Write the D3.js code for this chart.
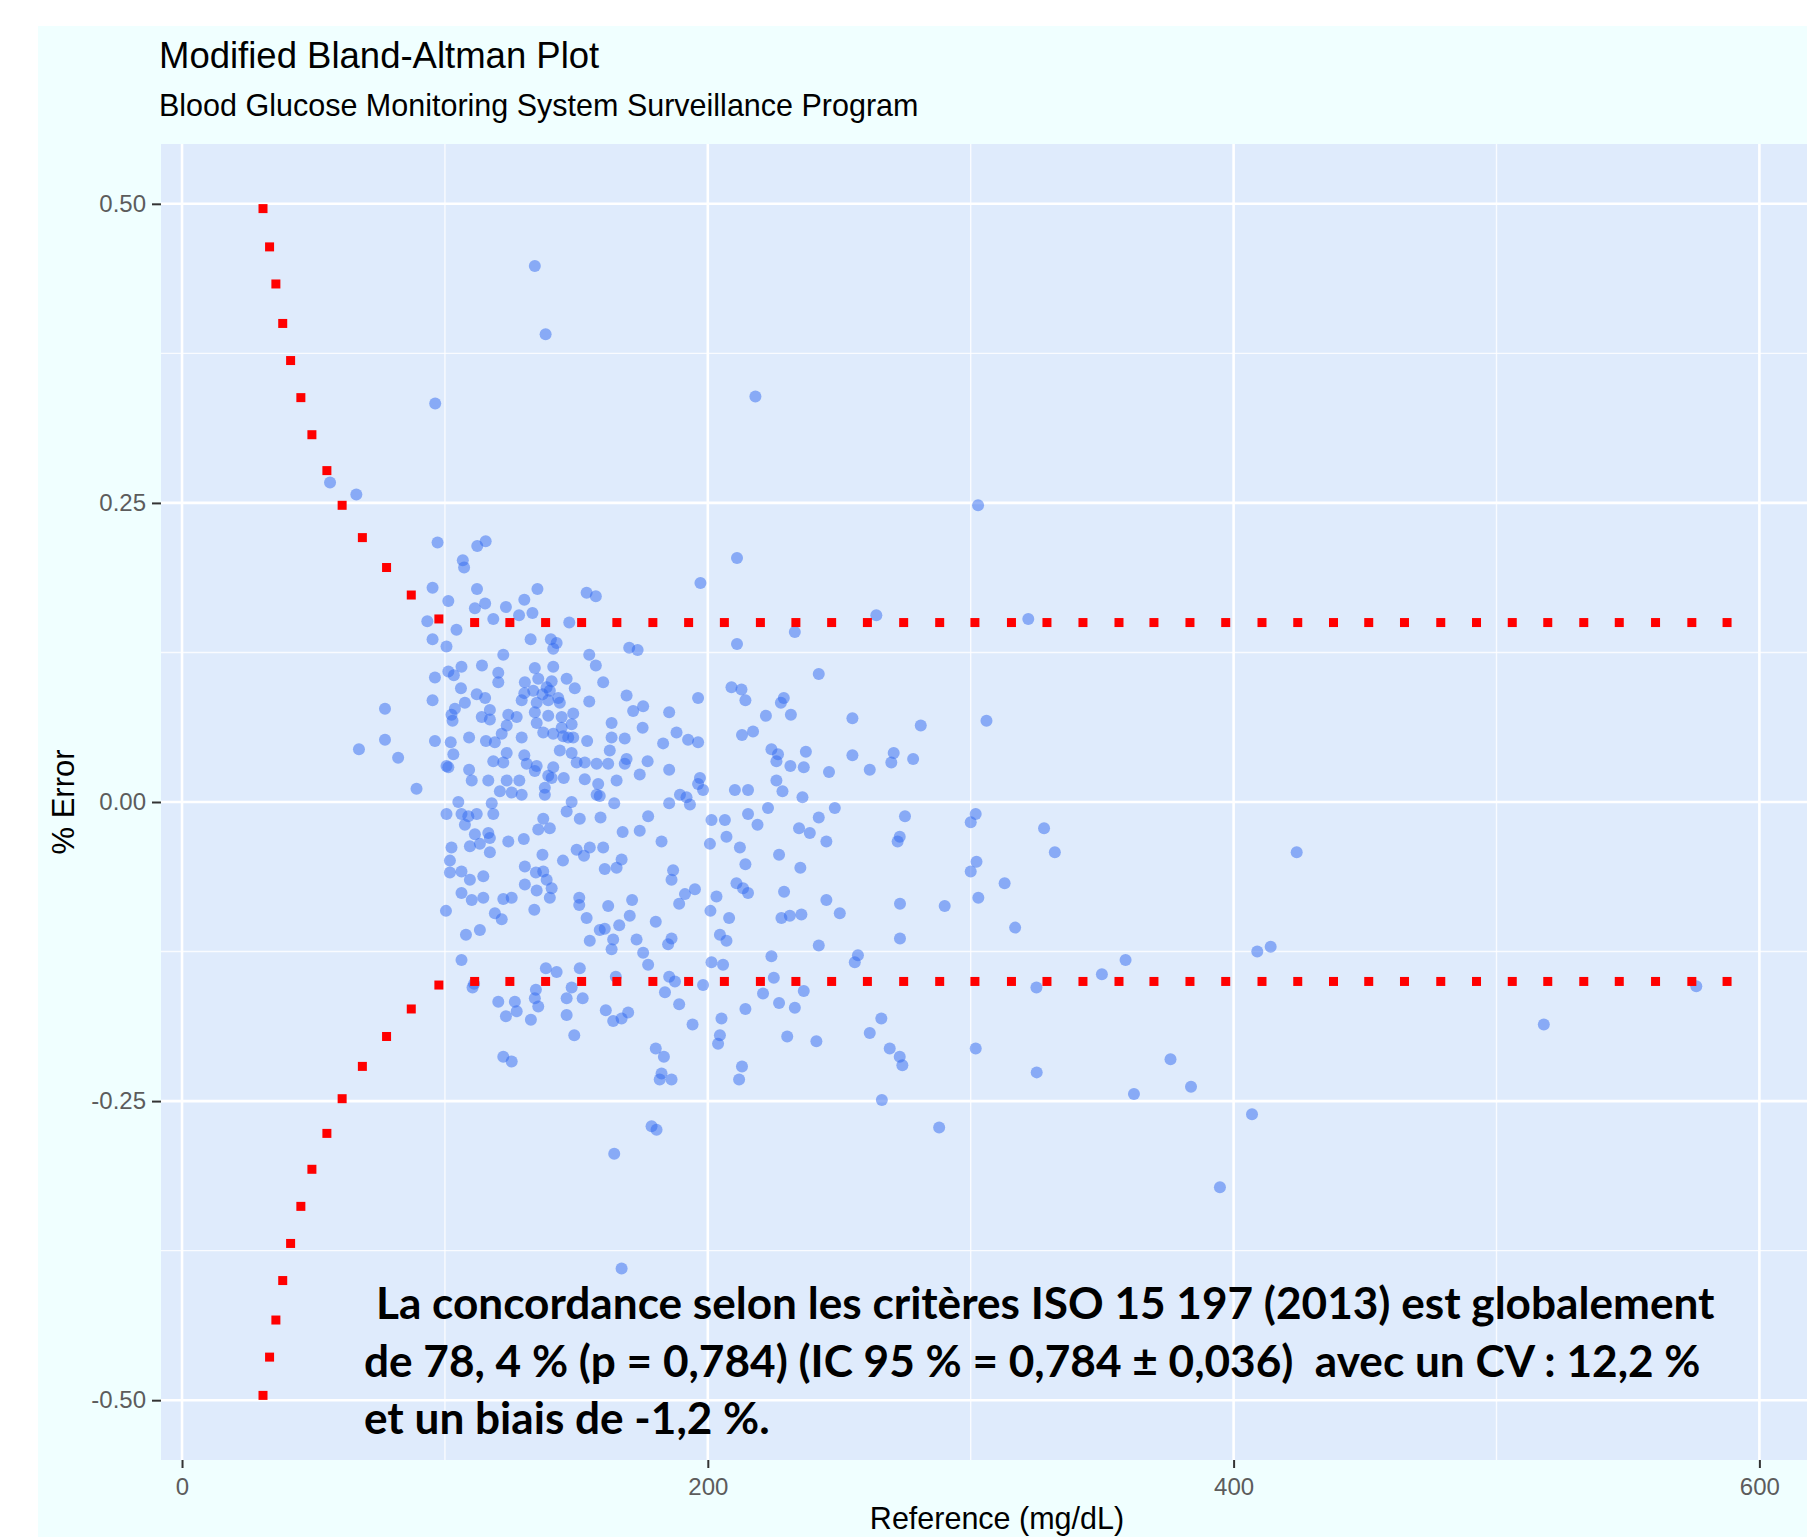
<!DOCTYPE html>
<html>
<head>
<meta charset="utf-8">
<script src="https://cdn.jsdelivr.net/npm/d3@7"></script>
<style>
  body { margin: 0; background: #ffffff; }
  svg { display: block; }
</style>
</head>
<body>
<div id="chart"></div>
<script>
// axis ticks
var xTicks = [0, 200, 400, 600];
var xMinor = [100, 300, 500];
var yTicks = [0.5, 0.25, 0, -0.25, -0.5];
var yTickLabels = ["0.50", "0.25", "0.00", "-0.25", "-0.50"];
var yMinor = [0.375, 0.125, -0.125, -0.375];

// ISO 15197 limits (red markers)
var curveX = [30.8, 33.3, 35.7, 38.3, 41.3, 45.2, 49.4, 55.1, 60.9, 68.6, 77.8, 87.2, 97.7];
var upperCurveY = [0.496, 0.464, 0.433, 0.400, 0.369, 0.338, 0.307, 0.277, 0.248, 0.221, 0.196, 0.173, 0.153];
var lowerCurveY = [-0.496, -0.464, -0.433, -0.400, -0.369, -0.338, -0.307, -0.277, -0.248, -0.221, -0.196, -0.173, -0.153];
var lineX = [111.3, 124.7, 138.3, 152.0, 165.4, 179.1, 192.7, 206.3, 220.0, 233.5, 247.1, 260.7,
             274.5, 288.2, 301.6, 315.5, 329.0, 342.7, 356.4, 369.7, 383.4, 397.0, 410.8, 424.4,
             438.0, 451.4, 465.0, 478.8, 492.4, 506.0, 519.5, 533.2, 546.7, 560.5, 574.3, 587.7];
var upperLineY = 0.15;
var lowerLineY = -0.15;

// measurements: [reference mg/dL, % error]
var points = [
  [134.2,0.448],[138.3,0.391],[96.3,0.333],[218.1,0.339],[56.3,0.267],[66.3,0.257],[97.2,0.217],
  [112.3,0.214],[115.5,0.218],[211.1,0.204],[106.8,0.202],[302.8,0.248],[67.3,0.044],
  [264.1,0.156],[321.9,0.153],[281,0.064],[306,0.068],[270.7,0.041],[269.8,0.033],[278.1,0.036],
  [261.6,0.027],[275,-0.012],[301.9,-0.010],[300,-0.017],[327.9,-0.022],[332,-0.042],[273,-0.029],
  [272.2,-0.033],[424,-0.042],[302.2,-0.050],[300,-0.058],[312.9,-0.068],[302.9,-0.080],[273.1,-0.085],
  [290.1,-0.087],[316.9,-0.105],[273.1,-0.114],[358.9,-0.132],[349.9,-0.144],[325,-0.155],[409,-0.125],
  [414.1,-0.121],[266,-0.181],[261.6,-0.193],[269.2,-0.206],[273,-0.213],[301.9,-0.206],[376,-0.215],
  [274,-0.220],[266.2,-0.249],[288,-0.272],[325.1,-0.226],[362.1,-0.244],[383.8,-0.238],[407,-0.261],
  [394.8,-0.322],[518,-0.186],[576,-0.154],
  [122.2,-0.213],[125.4,-0.217],[183.3,-0.213],[182.4,-0.227],[186.2,-0.232],[181.7,-0.232],[213,-0.221],
  [211.9,-0.232],[178.6,-0.271],[180.5,-0.274],[164.4,-0.294],[167.2,-0.390],
  [107.3,0.196],[197.2,0.183],[95.3,0.179],[112.2,0.178],[135.2,0.178],[153.9,0.175],[157.4,0.172],
  [101.3,0.168],[130.2,0.169],[115.3,0.166],[111.4,0.162],[123.2,0.163],[133.3,0.158],[128.2,0.156],
  [118.4,0.153],[93.3,0.151],[147.3,0.150],[104.4,0.144],[233.1,0.142],[95.3,0.136],[132.6,0.136],
  [140.3,0.136],[142.5,0.133],[141.2,0.128],[100.6,0.130],[211.1,0.132],[170.1,0.129],[173.3,0.127],
  [122.2,0.123],[154.9,0.123],[157.4,0.114],[141.2,0.113],[134.2,0.112],[114.1,0.114],[106.3,0.113],
  [101.3,0.109],[103.4,0.106],[120.3,0.108],[120.3,0.100],[96.2,0.104],[242.2,0.107],[146.3,0.103],
  [160.2,0.100],[130.4,0.100],[135.5,0.103],[140.6,0.101],[138.7,0.096],[149.4,0.095],[106.1,0.095],
  [130.2,0.091],[133.6,0.093],[137.1,0.090],[139.9,0.093],[143.1,0.087],[139.3,0.085],[134.9,0.083],
  [143.7,0.083],[112.1,0.090],[115.3,0.087],[95.3,0.085],[107.6,0.083],[209.0,0.096],[212.8,0.094],
  [214.3,0.085],[169.1,0.089],[154.9,0.084],[196.3,0.087],[228.9,0.087],[227.8,0.083],[129.2,0.085],
  [103.8,0.078],[102.9,0.068],[102.5,0.073],[114.0,0.071],[117.1,0.077],[117.1,0.069],[124.1,0.073],
  [127.3,0.071],[123.5,0.064],[121.6,0.057],[134.2,0.075],[134.9,0.066],[139.3,0.072],[144.4,0.071],
  [148.8,0.074],[148.2,0.065],[144.4,0.062],[185.3,0.075],[222.1,0.072],[231.6,0.073],[255.0,0.070],
  [171.6,0.076],[175.4,0.080],[163.4,0.066],[175.2,0.062],[137.4,0.058],[141.2,0.057],[145.0,0.055],
  [146.9,0.054],[148.8,0.054],[213.0,0.056],[217.2,0.059],[188.1,0.058],[192.5,0.052],[196.3,0.050],
  [183.0,0.049],[163.4,0.054],[168.4,0.053],[154.1,0.051],[96.2,0.051],[102.2,0.050],[109.2,0.054],
  [115.6,0.051],[119.0,0.050],[129.2,0.054],[77.2,0.078],[77.2,0.052],[82.2,0.037],
  [103.2,0.040],[143.7,0.043],[148.2,0.041],[150.1,0.033],[123.5,0.041],[118.4,0.034],[122.2,0.033],
  [130.2,0.039],[131.1,0.032],[134.9,0.030],[134.2,0.026],[100.6,0.030],[101.3,0.029],[141.2,0.029],
  [139.3,0.022],[140.6,0.020],[224.2,0.044],[226.7,0.040],[226.1,0.034],[237.3,0.042],[236.5,0.029],
  [231.4,0.030],[162.7,0.043],[162.1,0.032],[157.7,0.032],[153.2,0.033],[168.4,0.032],[169.1,0.036],
  [177.1,0.034],[185.3,0.027],[174.1,0.023],[246.1,0.025],[255.0,0.039],[109.2,0.027],[110.2,0.018],
  [116.5,0.018],[123.5,0.018],[128.3,0.018],[89.2,0.011],[145.2,0.020],[153.2,0.019],[158.3,0.015],
  [157.7,0.006],[158.9,0.005],[165.3,0.018],[138.0,0.012],[138.0,0.006],[120.9,0.009],[125.4,0.008],
  [129.2,0.006],[117.8,-0.001],[118.4,-0.010],[105.1,0.000],[197.0,0.020],[196.3,0.015],[198.2,0.010],
  [210.3,0.010],[215.3,0.010],[226.1,0.018],[228.4,0.009],[236.0,0.004],[148.2,0.000],[146.3,-0.008],
  [164.4,-0.001],[185.3,-0.001],[189.4,0.006],[191.9,0.004],[193.2,-0.002],[222.9,-0.005],[248.3,-0.005],
  [100.6,-0.010],[106.3,-0.010],[108.9,-0.012],[112.1,-0.010],[151.3,-0.014],[159.2,-0.013],[177.3,-0.012],
  [215.3,-0.010],[242.2,-0.013],[137.4,-0.014],[139.9,-0.022],[135.5,-0.023],[107.6,-0.019],[111.4,-0.027],
  [116.5,-0.026],[117.1,-0.030],[174.1,-0.024],[167.6,-0.025],[201.4,-0.015],[206.5,-0.015],[218.9,-0.019],
  [234.7,-0.022],[238.8,-0.026],[207.1,-0.029],[200.8,-0.035],[182.4,-0.033],[245.1,-0.033],[124.1,-0.033],
  [130.0,-0.031],[102.5,-0.038],[101.9,-0.049],[109.5,-0.037],[113.3,-0.035],[117.1,-0.042],[137.1,-0.044],
  [150.1,-0.040],[155.1,-0.038],[160.2,-0.038],[152.9,-0.045],[212.2,-0.038],[227.1,-0.044],[144.9,-0.049],
  [167.2,-0.048],[165.3,-0.055],[160.8,-0.056],[186.8,-0.057],[186.2,-0.065],[214.3,-0.052],[235.2,-0.055],
  [101.9,-0.059],[106.3,-0.058],[109.5,-0.065],[114.6,-0.062],[130.4,-0.054],[134.6,-0.059],[137.4,-0.058],
  [138.7,-0.065],[210.9,-0.068],[213.4,-0.072],[215.3,-0.076],[229.0,-0.075],[195.1,-0.073],[191.3,-0.077],
  [189.1,-0.085],[130.4,-0.069],[134.9,-0.074],[140.6,-0.072],[139.9,-0.080],[106.3,-0.076],[110.2,-0.082],
  [114.6,-0.080],[203.3,-0.079],[245.1,-0.082],[250.2,-0.093],[100.4,-0.091],[122.2,-0.081],[125.4,-0.080],
  [119.0,-0.093],[121.6,-0.098],[134.0,-0.090],[151.1,-0.080],[151.1,-0.086],[153.9,-0.097],[162.1,-0.087],
  [171.2,-0.082],[170.3,-0.095],[201.0,-0.091],[208.1,-0.097],[228.0,-0.097],[231.2,-0.095],[235.6,-0.094],
  [180.2,-0.100],[166.3,-0.103],[158.9,-0.107],[160.8,-0.106],[108.0,-0.111],[113.3,-0.107],[186.2,-0.114],
  [184.9,-0.119],[172.9,-0.115],[175.4,-0.126],[177.3,-0.136],[155.1,-0.116],[164.0,-0.115],[163.4,-0.123],
  [204.6,-0.111],[207.1,-0.116],[242.2,-0.120],[224.2,-0.129],[257.1,-0.128],[255.9,-0.134],
  [106.3,-0.132],[201.4,-0.134],[205.8,-0.136],[138.4,-0.139],[142.5,-0.142],[151.3,-0.139],[165.0,-0.146],
  [185.3,-0.146],[187.5,-0.150],[225.1,-0.147],[198.2,-0.153],[111.1,-0.152],[110.5,-0.155],[148.2,-0.155],
  [183.7,-0.159],[236.5,-0.158],[221.0,-0.160],[134.6,-0.157],[134.2,-0.164],[135.5,-0.171],[120.3,-0.167],
  [126.6,-0.167],[127.3,-0.175],[123.2,-0.179],[146.3,-0.164],[152.4,-0.164],[189.1,-0.169],[227.1,-0.168],
  [233.1,-0.172],[214.3,-0.173],[132.7,-0.182],[146.3,-0.178],[161.2,-0.174],[164.0,-0.183],[169.7,-0.176],
  [167.2,-0.181],[194.2,-0.186],[205.2,-0.181],[149.2,-0.195],[204.6,-0.195],[203.9,-0.202],[230.2,-0.196],
  [241.3,-0.200],[180.2,-0.206]
];

var titleText = "Modified Bland-Altman Plot";
var subtitleText = "Blood Glucose Monitoring System Surveillance Program";
var xTitle = "Reference (mg/dL)";
var yTitle = "% Error";
var annotationLines = [
  "La concordance selon les critères ISO 15 197 (2013) est globalement",
  "de 78, 4 % (p = 0,784) (IC 95 % = 0,784 \u00b1 0,036)  avec un CV : 12,2 %",
  "et un biais de -1,2 %."
];

var width = 1807, height = 1537;
var panel = { left: 161, top: 144, right: 1833, bottom: 1460 };

var svg = d3.select("#chart").append("svg")
  .attr("width", width)
  .attr("height", height)
  .style("font-family", "'Liberation Sans', Arial, sans-serif");

// plot background
svg.append("rect")
  .attr("x", 38).attr("y", 26)
  .attr("width", width - 38).attr("height", height - 26)
  .attr("fill", "#f0ffff");

var x = d3.scaleLinear().domain([-8, 628]).range([panel.left, panel.right]);
var y = d3.scaleLinear().domain([-0.55, 0.55]).range([panel.bottom, panel.top]);

// panel
svg.append("rect")
  .attr("x", panel.left).attr("y", panel.top)
  .attr("width", panel.right - panel.left)
  .attr("height", panel.bottom - panel.top)
  .attr("fill", "#dfebfc");

var grid = svg.append("g").attr("stroke", "#ffffff");
grid.selectAll(".gxm").data(xMinor).enter().append("line")
  .attr("x1", d => x(d)).attr("x2", d => x(d))
  .attr("y1", panel.top).attr("y2", panel.bottom)
  .attr("stroke-width", 1.4).attr("stroke-opacity", 0.8);
grid.selectAll(".gym").data(yMinor).enter().append("line")
  .attr("y1", d => y(d)).attr("y2", d => y(d))
  .attr("x1", panel.left).attr("x2", panel.right)
  .attr("stroke-width", 1.4).attr("stroke-opacity", 0.8);
grid.selectAll(".gx").data(xTicks).enter().append("line")
  .attr("x1", d => x(d)).attr("x2", d => x(d))
  .attr("y1", panel.top).attr("y2", panel.bottom)
  .attr("stroke-width", 2.6);
grid.selectAll(".gy").data(yTicks).enter().append("line")
  .attr("y1", d => y(d)).attr("y2", d => y(d))
  .attr("x1", panel.left).attr("x2", panel.right)
  .attr("stroke-width", 2.6);

// measurements
svg.append("g")
  .selectAll("circle")
  .data(points)
  .enter()
  .append("circle")
  .attr("cx", d => x(d[0]))
  .attr("cy", d => y(d[1]))
  .attr("r", 6)
  .attr("fill", "rgb(50,105,240)")
  .attr("fill-opacity", 0.5);

// red limit markers
var limits = [];
curveX.forEach(function(v, i) {
  limits.push([v, upperCurveY[i]]);
  limits.push([v, lowerCurveY[i]]);
});
lineX.forEach(function(v) {
  limits.push([v, upperLineY]);
  limits.push([v, lowerLineY]);
});
var sq = 9;
svg.append("g")
  .selectAll("rect")
  .data(limits)
  .enter()
  .append("rect")
  .attr("x", d => x(d[0]) - sq / 2)
  .attr("y", d => y(d[1]) - sq / 2)
  .attr("width", sq)
  .attr("height", sq)
  .attr("fill", "#ff0000");

// axes
var yAxis = d3.axisLeft(y)
  .tickValues(yTicks)
  .tickFormat((d, i) => yTickLabels[i])
  .tickSize(9)
  .tickPadding(6);
var gy = svg.append("g")
  .attr("transform", "translate(" + panel.left + ",0)")
  .call(yAxis);

var xAxis = d3.axisBottom(x)
  .tickValues(xTicks)
  .tickFormat(d3.format("d"))
  .tickSize(8)
  .tickPadding(10);
var gx = svg.append("g")
  .attr("transform", "translate(0," + panel.bottom + ")")
  .call(xAxis);

[gx, gy].forEach(function(g) {
  g.select(".domain").remove();
  g.selectAll(".tick line").attr("stroke", "#333333").attr("stroke-width", 2);
  g.selectAll(".tick text")
    .attr("fill", "#5c5c5c")
    .style("font-size", "24px")
    .style("font-family", "'Liberation Sans', Arial, sans-serif");
});

// titles
svg.append("text")
  .attr("x", 159).attr("y", 68)
  .attr("font-size", 36.5)
  .attr("fill", "#000")
  .text(titleText);
svg.append("text")
  .attr("x", 159).attr("y", 116)
  .attr("font-size", 30.5)
  .attr("fill", "#000")
  .text(subtitleText);

svg.append("text")
  .attr("x", (panel.left + panel.right) / 2)
  .attr("y", 1529)
  .attr("text-anchor", "middle")
  .attr("font-size", 30.5)
  .attr("fill", "#000")
  .text(xTitle);

svg.append("text")
  .attr("transform", "translate(74," + ((panel.top + panel.bottom) / 2) + ") rotate(-90)")
  .attr("text-anchor", "middle")
  .attr("font-size", 31)
  .attr("fill", "#000")
  .text(yTitle);

// annotation in the panel
var annX = [376, 364, 364];
var annY = [1319, 1377, 1434];
var ann = svg.append("g")
  .style("font-family", "Lato, 'Open Sans', sans-serif")
  .style("font-weight", 700)
  .attr("fill", "#000");
var annText = ann.selectAll("text")
  .data(annotationLines)
  .enter()
  .append("text")
  .attr("x", (d, i) => annX[i])
  .attr("y", (d, i) => annY[i])
  .style("font-size", "42px")
  .style("white-space", "pre")
  .attr("xml:space", "preserve")
  .text(d => d);

// fit font size so that the first line spans the same width as in the picture
var natural = annText.nodes()[0].getComputedTextLength();
var fitted = 42 * 1339 / natural;
annText.style("font-size", fitted + "px");
</script>
</body>
</html>
